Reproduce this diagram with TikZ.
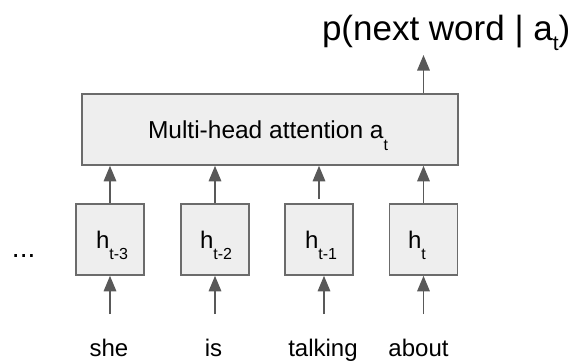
\documentclass[tikz,border=0pt]{standalone}
\usepackage{fontspec}
\setmainfont{Liberation Sans}
\usetikzlibrary{arrows.meta}
\definecolor{boxfill}{HTML}{EEEEEE}
\definecolor{boxline}{HTML}{6B6B6B}
\definecolor{arrowc}{HTML}{595959}
\newcommand{\fs}[1]{\fontsize{#1}{#1}\selectfont}
\newcommand{\lowsub}[3]{\raisebox{-#1pt}{\fs{#2}#3}}
\tikzset{
  cell/.style={draw=boxline, fill=boxfill, line width=1.6pt, inner sep=0pt},
  hcell/.style={cell, minimum width=68pt, minimum height=71pt},
  uparrow/.style={draw=arrowc, line width=1.6pt, -{Triangle[length=15.5pt,width=12.5pt]}},
  txt/.style={inner sep=0pt, outer sep=0pt, text=black},
}
\begin{document}
\begin{tikzpicture}[x=1pt,y=-1pt]
\useasboundingbox (0,0) rectangle (570,362);
% attention box
\node[cell, minimum width=376pt, minimum height=71pt] (att) at (270,129.5) {};
\node[txt, anchor=base west, font=\fs{24.5}] (attlbl) at (148,138) {Multi-head attention a\lowsub{12}{16}{t}};
% output label
\node[txt, anchor=base west, font=\fs{35}] (out) at (322,40) {p(next word | a\lowsub{10}{21}{t})};
\coordinate (outtip) at (423.5,55);
\draw[uparrow] (att.north -| outtip) -- (outtip);
% hidden states
\node[hcell] (h1) at (110,239.5) {};
\node[hcell] (h2) at (215,239.5) {};
\node[hcell] (h3) at (319,239.5) {};
\node[hcell] (h4) at (423.5,239.5) {};
\node[txt, anchor=base west, font=\fs{24}] (l1) at (96,248) {h\lowsub{11}{16}{t-3}};
\node[txt, anchor=base west, font=\fs{24}] (l2) at (200,248) {h\lowsub{11}{16}{t-2}};
\node[txt, anchor=base west, font=\fs{24}] (l3) at (305,248) {h\lowsub{11}{16}{t-1}};
\node[txt, anchor=base west, font=\fs{24}] (l4) at (408,248) {h\lowsub{11}{16}{t}};
% arrows h -> attention
\draw[uparrow] (h1.north) -- (h1.north |- att.south);
\draw[uparrow] (h2.north) -- (h2.north |- att.south);
\coordinate (g3) at (319,199);
\draw[uparrow] (g3) -- (g3 |- att.south);
\draw[uparrow] (h4.north) -- (h4.north |- att.south);
% input arrows
\coordinate (w1) at (110,314);
\coordinate (w2) at (215,314);
\coordinate (w3) at (324,314);
\coordinate (w4) at (423.5,314);
\draw[uparrow] (w1) -- (w1 |- h1.south);
\draw[uparrow] (w2) -- (w2 |- h2.south);
\draw[uparrow] (w3) -- (w3 |- h3.south);
\draw[uparrow] (w4) -- (w4 |- h4.south);
% words
\node[txt, anchor=base, font=\fs{24}] (s1) at (109,356) {she};
\node[txt, anchor=base, font=\fs{24}] (s2) at (213.5,356) {is};
\node[txt, anchor=base, font=\fs{24}] (s3) at (323,356) {talking};
\node[txt, anchor=base, font=\fs{24}] (s4) at (418.5,356) {about};
% dots
\node[txt, anchor=base west, font=\fs{28}] (dots) at (12,257) {...};
\end{tikzpicture}
\end{document}
